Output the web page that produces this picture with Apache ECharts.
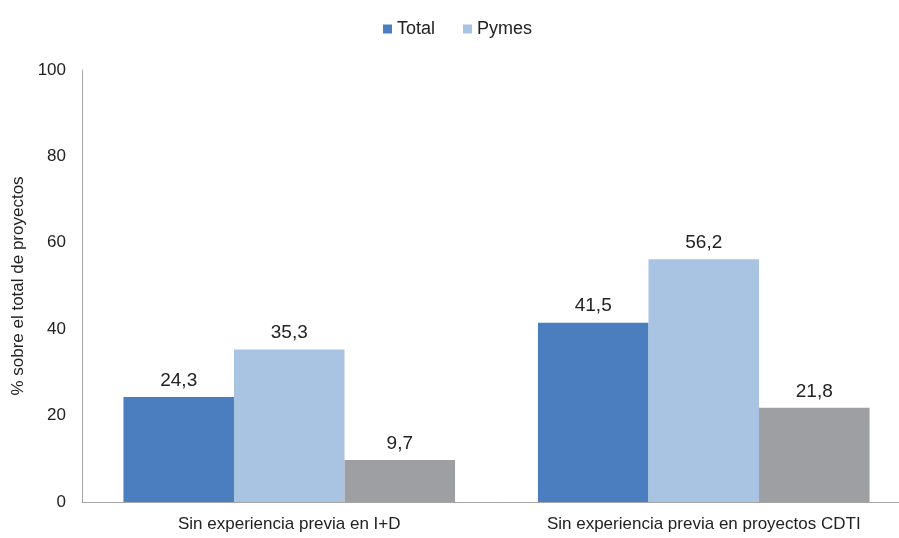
<!DOCTYPE html>
<html>
<head>
<meta charset="utf-8">
<script src="https://cdn.jsdelivr.net/npm/echarts@6/dist/echarts.min.js"></script>
<style>
  html, body { margin: 0; padding: 0; background: #fff; overflow: hidden; }
  #chart { width: 911px; height: 538px; }
</style>
</head>
<body>
<div id="chart"></div>
<script>
// categorías y valores (% sobre el total de proyectos)
const categories = ['Sin experiencia previa en I+D', 'Sin experiencia previa en proyectos CDTI'];
const totalValues = [24.3, 41.5];
const pymesValues = [35.3, 56.2];
const otherValues = [9.7, 21.8];
const yTicks = [0, 20, 40, 60, 80, 100];

const FONT = '"Liberation Sans Narrow", "Arial Narrow", "Liberation Sans", sans-serif';

const chart = echarts.init(document.getElementById('chart'));

const labelCfg = {
  show: true,
  position: 'top',
  distance: 7,
  color: '#222',
  fontSize: 19,
  fontFamily: FONT,
  formatter: p => p.value.toFixed(1).replace('.', ',')
};

const option = {
  animation: false,
  backgroundColor: '#fff',
  legend: {
    data: ['Total', 'Pymes'],
    top: 15,
    left: 378,
    itemWidth: 9,
    itemHeight: 9,
    itemGap: 28,
    icon: 'rect',
    textStyle: { fontFamily: FONT, fontSize: 18, color: '#222' }
  },
  grid: {
    left: 82,
    right: 0,
    top: 70,
    bottom: 36,
    containLabel: false
  },
  xAxis: {
    type: 'category',
    data: categories,
    axisTick: { show: false },
    axisLine: { lineStyle: { color: '#a6a6a6', width: 1 } },
    axisLabel: {
      color: '#222',
      fontSize: 17,
      fontFamily: FONT,
      margin: 14
    }
  },
  yAxis: {
    type: 'value',
    min: 0,
    max: 100,
    interval: 20,
    name: '% sobre el total de proyectos',
    nameLocation: 'middle',
    nameGap: 48,
    nameRotate: 90,
    nameTextStyle: { fontFamily: FONT, fontSize: 17, color: '#222' },
    axisLine: { show: true, lineStyle: { color: '#a6a6a6', width: 1 } },
    axisTick: { show: false },
    splitLine: { show: false },
    axisLabel: {
      color: '#222',
      fontSize: 17,
      fontFamily: FONT,
      margin: 16,
      formatter: v => (yTicks.includes(v) ? String(v) : '')
    }
  },
  series: [
    {
      name: 'Total',
      type: 'bar',
      data: totalValues,
      barGap: '0%',
      barCategoryGap: '20%',
      itemStyle: { color: '#4a7ebf' },
      label: labelCfg
    },
    {
      name: 'Pymes',
      type: 'bar',
      data: pymesValues,
      barGap: '0%',
      barCategoryGap: '20%',
      itemStyle: { color: '#a9c3e2' },
      label: labelCfg
    },
    {
      name: 'Resto',
      type: 'bar',
      data: otherValues,
      barGap: '0%',
      barCategoryGap: '20%',
      itemStyle: { color: '#9d9fa2' },
      label: labelCfg
    }
  ]
};

chart.setOption(option);
</script>
</body>
</html>
